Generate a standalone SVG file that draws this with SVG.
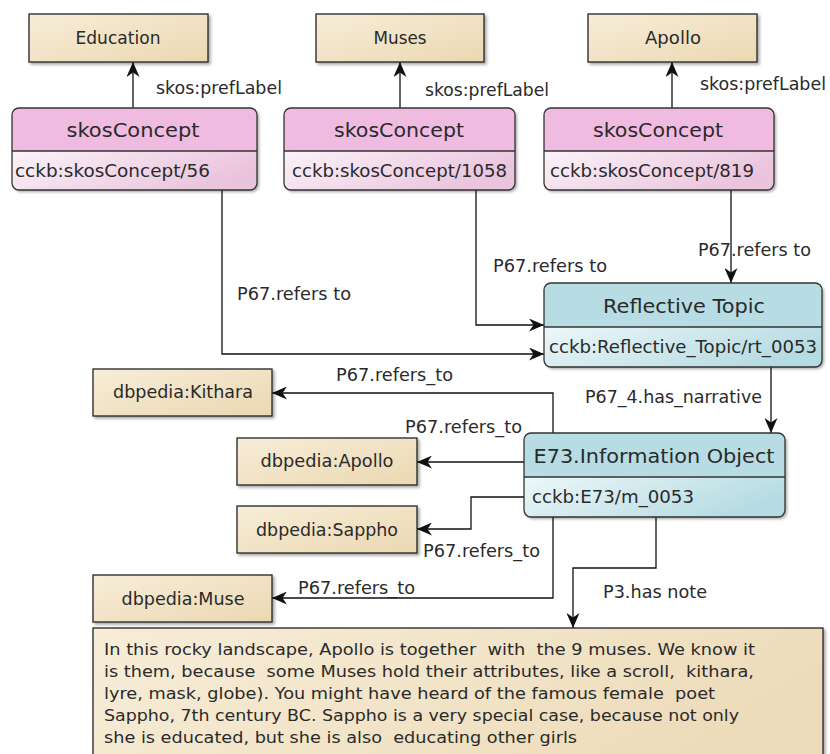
<svg xmlns="http://www.w3.org/2000/svg" width="830" height="754" viewBox="0 0 830 754">
  <defs>
    <linearGradient id="beige" x1="0" y1="0" x2="1" y2="1">
      <stop offset="0" stop-color="#f7edd8"/>
      <stop offset="1" stop-color="#ebd8b2"/>
    </linearGradient>
    <linearGradient id="beigeWide" x1="0" y1="0" x2="1" y2="0.3">
      <stop offset="0" stop-color="#f7edd8"/>
      <stop offset="1" stop-color="#eddcba"/>
    </linearGradient>
    <linearGradient id="pinkBody" x1="0" y1="0" x2="1" y2="0.4">
      <stop offset="0" stop-color="#fbf3f8"/>
      <stop offset="1" stop-color="#eac4dd"/>
    </linearGradient>
    <linearGradient id="blueBody" x1="0" y1="0" x2="1" y2="0.4">
      <stop offset="0" stop-color="#edf7f9"/>
      <stop offset="1" stop-color="#b6dce3"/>
    </linearGradient>
    <filter id="shadow" x="-5%" y="-10%" width="115%" height="130%">
      <feDropShadow dx="2" dy="2" stdDeviation="1.5" flood-color="#000" flood-opacity="0.35"/>
    </filter>
    <marker id="arr" viewBox="0 0 15 13" refX="15" refY="6.5" markerWidth="15" markerHeight="13" markerUnits="userSpaceOnUse" orient="auto">
      <path d="M0,0 L15,6.5 L0,13 L4.5,6.5 Z" fill="#111"/>
    </marker>
    <style>
      text { font-family: "DejaVu Sans", "Liberation Sans", sans-serif; fill: #2a2a2a; white-space: pre; }
      .lit { font-size: 17px; text-anchor: middle; }
      .title { font-size: 20px; text-anchor: middle; }
      .sub { font-size: 17px; }
      .lbl { font-size: 17px; }
      .note { font-size: 16px; }
      .box { fill: url(#beige); stroke: #222; stroke-width: 1.3; filter: url(#shadow); }
      .base { fill: #fff; filter: url(#shadow); }
      .outline { fill: none; stroke: #333; stroke-width: 1.3; }
      .div { stroke: #333; stroke-width: 1.3; }
      .pinkHead { fill: #f0bbe1; }
      .pinkBody { fill: url(#pinkBody); }
      .blueHead { fill: #b7dce3; }
      .blueBody { fill: url(#blueBody); }
      .edge { fill: none; stroke: #111; stroke-width: 1.3; marker-end: url(#arr); }
    </style>
  </defs>

  <!-- connectors -->
  <g id="connectors">
    <path class="edge" d="M133,108 V62"/>
    <path class="edge" d="M400,108 V62"/>
    <path class="edge" d="M672,108 V62"/>
    <path class="edge" d="M222,190 V354 H544"/>
    <path class="edge" d="M476,190 V325 H544"/>
    <path class="edge" d="M731,190 V283"/>
    <path class="edge" d="M771,367 V433"/>
    <path class="edge" d="M553,433 V393 H272"/>
    <path class="edge" d="M524,462 H417"/>
    <path class="edge" d="M524,497 H471 V529 H417"/>
    <path class="edge" d="M553,517 V598 H272"/>
    <path class="edge" d="M656,517 V568 H573 V628"/>

    <text class="lbl" x="156" y="94" textLength="126" lengthAdjust="spacingAndGlyphs">skos:prefLabel</text>
    <text class="lbl" x="425" y="96" textLength="124" lengthAdjust="spacingAndGlyphs">skos:prefLabel</text>
    <text class="lbl" x="700" y="90" textLength="126" lengthAdjust="spacingAndGlyphs">skos:prefLabel</text>
    <text class="lbl" x="698" y="256" textLength="113" lengthAdjust="spacingAndGlyphs">P67.refers to</text>
    <text class="lbl" x="493" y="272" textLength="114" lengthAdjust="spacingAndGlyphs">P67.refers to</text>
    <text class="lbl" x="237" y="300" textLength="114" lengthAdjust="spacingAndGlyphs">P67.refers to</text>
    <text class="lbl" x="585" y="403" textLength="177" lengthAdjust="spacingAndGlyphs">P67_4.has_narrative</text>
    <text class="lbl" x="336" y="381" textLength="117" lengthAdjust="spacingAndGlyphs">P67.refers_to</text>
    <text class="lbl" x="405" y="433" textLength="117" lengthAdjust="spacingAndGlyphs">P67.refers_to</text>
    <text class="lbl" x="423" y="557" textLength="117" lengthAdjust="spacingAndGlyphs">P67.refers_to</text>
    <text class="lbl" x="298" y="594" textLength="117" lengthAdjust="spacingAndGlyphs">P67.refers_to</text>
    <text class="lbl" x="603" y="598" textLength="104" lengthAdjust="spacingAndGlyphs">P3.has note</text>
  </g>

  <!-- literal nodes -->
  <g id="lit-education">
    <rect class="box" x="29" y="14" width="179" height="48"/>
    <text class="lit" x="118" y="44" textLength="85" lengthAdjust="spacingAndGlyphs">Education</text>
  </g>
  <g id="lit-muses">
    <rect class="box" x="316" y="14" width="168" height="48"/>
    <text class="lit" x="400" y="44" textLength="53" lengthAdjust="spacingAndGlyphs">Muses</text>
  </g>
  <g id="lit-apollo">
    <rect class="box" x="588" y="14" width="169" height="48"/>
    <text class="lit" x="673" y="44" textLength="56" lengthAdjust="spacingAndGlyphs">Apollo</text>
  </g>

  <!-- skos concepts -->
  <g id="concept-56">
    <rect class="base" x="12" y="108" width="245" height="82" rx="7"/>
    <path class="pinkHead" d="M12,151 V115 A7 7 0 0 1 19,108 H250 A7 7 0 0 1 257,115 V151 Z"/>
    <path class="pinkBody" d="M12,151 H257 V183 A7 7 0 0 1 250,190 H19 A7 7 0 0 1 12,183 Z"/>
    <line class="div" x1="12" y1="151" x2="257" y2="151"/>
    <rect class="outline" x="12" y="108" width="245" height="82" rx="7"/>
    <text class="title" x="133" y="137" textLength="133" lengthAdjust="spacingAndGlyphs">skosConcept</text>
    <text class="sub" x="15" y="177" textLength="195" lengthAdjust="spacingAndGlyphs">cckb:skosConcept/56</text>
  </g>
  <g id="concept-1058">
    <rect class="base" x="284" y="108" width="231" height="82" rx="7"/>
    <path class="pinkHead" d="M284,151 V115 A7 7 0 0 1 291,108 H508 A7 7 0 0 1 515,115 V151 Z"/>
    <path class="pinkBody" d="M284,151 H515 V183 A7 7 0 0 1 508,190 H291 A7 7 0 0 1 284,183 Z"/>
    <line class="div" x1="284" y1="151" x2="515" y2="151"/>
    <rect class="outline" x="284" y="108" width="231" height="82" rx="7"/>
    <text class="title" x="399" y="137" textLength="130" lengthAdjust="spacingAndGlyphs">skosConcept</text>
    <text class="sub" x="292" y="177" textLength="215" lengthAdjust="spacingAndGlyphs">cckb:skosConcept/1058</text>
  </g>
  <g id="concept-819">
    <rect class="base" x="544" y="108" width="230" height="82" rx="7"/>
    <path class="pinkHead" d="M544,151 V115 A7 7 0 0 1 551,108 H767 A7 7 0 0 1 774,115 V151 Z"/>
    <path class="pinkBody" d="M544,151 H774 V183 A7 7 0 0 1 767,190 H551 A7 7 0 0 1 544,183 Z"/>
    <line class="div" x1="544" y1="151" x2="774" y2="151"/>
    <rect class="outline" x="544" y="108" width="230" height="82" rx="7"/>
    <text class="title" x="658" y="137" textLength="130" lengthAdjust="spacingAndGlyphs">skosConcept</text>
    <text class="sub" x="550" y="177" textLength="204" lengthAdjust="spacingAndGlyphs">cckb:skosConcept/819</text>
  </g>

  <!-- reflective topic -->
  <g id="reflective-topic">
    <rect class="base" x="544" y="283" width="278" height="84" rx="7"/>
    <path class="blueHead" d="M544,327 V290 A7 7 0 0 1 551,283 H815 A7 7 0 0 1 822,290 V327 Z"/>
    <path class="blueBody" d="M544,327 H822 V360 A7 7 0 0 1 815,367 H551 A7 7 0 0 1 544,360 Z"/>
    <line class="div" x1="544" y1="327" x2="822" y2="327"/>
    <rect class="outline" x="544" y="283" width="278" height="84" rx="7"/>
    <text class="title" x="684" y="313" textLength="162" lengthAdjust="spacingAndGlyphs">Reflective Topic</text>
    <text class="sub" x="549" y="353" textLength="268" lengthAdjust="spacingAndGlyphs">cckb:Reflective_Topic/rt_0053</text>
  </g>

  <!-- information object -->
  <g id="information-object">
    <rect class="base" x="524" y="433" width="261" height="84" rx="7"/>
    <path class="blueHead" d="M524,477 V440 A7 7 0 0 1 531,433 H778 A7 7 0 0 1 785,440 V477 Z"/>
    <path class="blueBody" d="M524,477 H785 V510 A7 7 0 0 1 778,517 H531 A7 7 0 0 1 524,510 Z"/>
    <line class="div" x1="524" y1="477" x2="785" y2="477"/>
    <rect class="outline" x="524" y="433" width="261" height="84" rx="7"/>
    <text class="title" x="654" y="463" textLength="241" lengthAdjust="spacingAndGlyphs">E73.Information Object</text>
    <text class="sub" x="532" y="503" textLength="162" lengthAdjust="spacingAndGlyphs">cckb:E73/m_0053</text>
  </g>

  <!-- dbpedia resources -->
  <g id="dbpedia-kithara">
    <rect class="box" x="93" y="369" width="179" height="47"/>
    <text class="lit" x="183" y="398" textLength="140" lengthAdjust="spacingAndGlyphs">dbpedia:Kithara</text>
  </g>
  <g id="dbpedia-apollo">
    <rect class="box" x="237" y="438" width="180" height="47"/>
    <text class="lit" x="327" y="467" textLength="133" lengthAdjust="spacingAndGlyphs">dbpedia:Apollo</text>
  </g>
  <g id="dbpedia-sappho">
    <rect class="box" x="237" y="506" width="180" height="47"/>
    <text class="lit" x="327" y="536" textLength="142" lengthAdjust="spacingAndGlyphs">dbpedia:Sappho</text>
  </g>
  <g id="dbpedia-muse">
    <rect class="box" x="93" y="575" width="179" height="47"/>
    <text class="lit" x="183" y="605" textLength="123" lengthAdjust="spacingAndGlyphs">dbpedia:Muse</text>
  </g>

  <!-- narrative note -->
  <g id="note">
    <rect class="box" x="93" y="628" width="730" height="140" style="fill:url(#beigeWide)"/>
    <text class="note" x="104" y="655" textLength="651" lengthAdjust="spacingAndGlyphs">In this rocky landscape, Apollo is together  with  the 9 muses. We know it</text>
    <text class="note" x="104" y="677" textLength="650" lengthAdjust="spacingAndGlyphs">is them, because  some Muses hold their attributes, like a scroll,  kithara,</text>
    <text class="note" x="104" y="699" textLength="611" lengthAdjust="spacingAndGlyphs">lyre, mask, globe). You might have heard of the famous female  poet</text>
    <text class="note" x="104" y="721" textLength="635" lengthAdjust="spacingAndGlyphs">Sappho, 7th century BC. Sappho is a very special case, because not only</text>
    <text class="note" x="104" y="743" textLength="473" lengthAdjust="spacingAndGlyphs">she is educated, but she is also  educating other girls</text>
  </g>
</svg>
